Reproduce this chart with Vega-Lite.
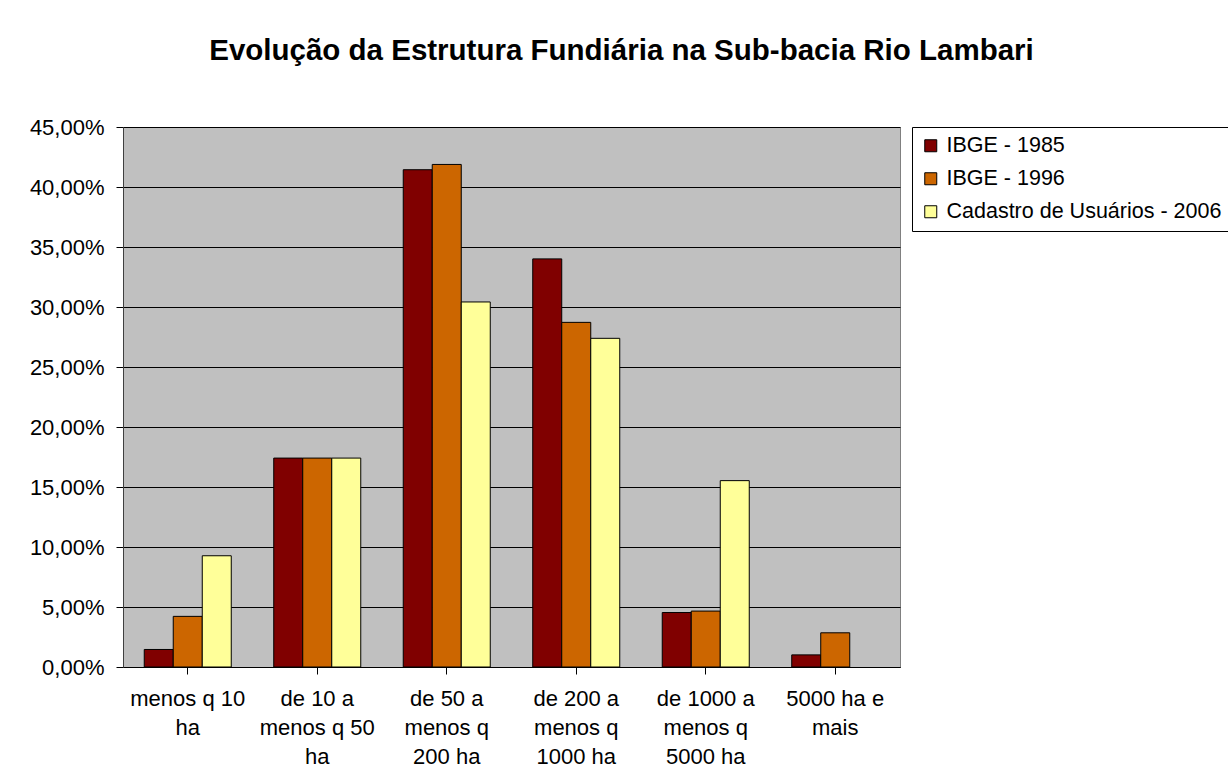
{
  "$schema": "https://vega.github.io/schema/vega-lite/v6.json",
  "width": 777,
  "height": 540,
  "autosize": "none",
  "padding": {"left": 123, "top": 127, "right": 328, "bottom": 111},
  "background": "white",
  "title": {
    "text": "Evolução da Estrutura Fundiária na Sub-bacia Rio Lambari",
    "font": "Liberation Sans",
    "fontSize": 29.5,
    "fontWeight": "bold",
    "color": "black",
    "anchor": "middle",
    "dx": 110,
    "baseline": "alphabetic",
    "offset": 27
  },
  "data": {
    "values": [
      {"classe": "menos q 10 ha", "fonte": "IBGE - 1985", "valor": 0.0146},
      {"classe": "menos q 10 ha", "fonte": "IBGE - 1996", "valor": 0.0422},
      {"classe": "menos q 10 ha", "fonte": "Cadastro de Usuários - 2006", "valor": 0.0927},
      {"classe": "de 10 a menos q 50 ha", "fonte": "IBGE - 1985", "valor": 0.1741},
      {"classe": "de 10 a menos q 50 ha", "fonte": "IBGE - 1996", "valor": 0.1741},
      {"classe": "de 10 a menos q 50 ha", "fonte": "Cadastro de Usuários - 2006", "valor": 0.1741},
      {"classe": "de 50 a menos q 200 ha", "fonte": "IBGE - 1985", "valor": 0.4144},
      {"classe": "de 50 a menos q 200 ha", "fonte": "IBGE - 1996", "valor": 0.4188},
      {"classe": "de 50 a menos q 200 ha", "fonte": "Cadastro de Usuários - 2006", "valor": 0.3042},
      {"classe": "de 200 a menos q 1000 ha", "fonte": "IBGE - 1985", "valor": 0.3401},
      {"classe": "de 200 a menos q 1000 ha", "fonte": "IBGE - 1996", "valor": 0.2872},
      {"classe": "de 200 a menos q 1000 ha", "fonte": "Cadastro de Usuários - 2006", "valor": 0.2739},
      {"classe": "de 1000 a menos q 5000 ha", "fonte": "IBGE - 1985", "valor": 0.0454},
      {"classe": "de 1000 a menos q 5000 ha", "fonte": "IBGE - 1996", "valor": 0.0466},
      {"classe": "de 1000 a menos q 5000 ha", "fonte": "Cadastro de Usuários - 2006", "valor": 0.1553},
      {"classe": "5000 ha e mais", "fonte": "IBGE - 1985", "valor": 0.0101},
      {"classe": "5000 ha e mais", "fonte": "IBGE - 1996", "valor": 0.0285}
    ]
  },
  "mark": {"type": "bar", "stroke": "black", "strokeWidth": 1},
  "encoding": {
    "x": {
      "field": "classe",
      "type": "nominal",
      "sort": null,
      "title": null,
      "scale": {"paddingInner": 0.328, "paddingOuter": 0.164},
      "axis": {
        "labelAngle": 0,
        "labelFont": "Liberation Sans",
        "labelFontSize": 22,
        "labelColor": "black",
        "labelLineHeight": 29,
        "labelPadding": 14,
        "tickSize": 7,
        "tickColor": "black",
        "domainColor": "black",
        "grid": false,
        "labelExpr": "{'menos q 10 ha': ['menos q 10', 'ha'], 'de 10 a menos q 50 ha': ['de 10 a', 'menos q 50', 'ha'], 'de 50 a menos q 200 ha': ['de 50 a', 'menos q', '200 ha'], 'de 200 a menos q 1000 ha': ['de 200 a', 'menos q', '1000 ha'], 'de 1000 a menos q 5000 ha': ['de 1000 a', 'menos q', '5000 ha'], '5000 ha e mais': ['5000 ha e', 'mais']}[datum.label]"
      }
    },
    "xOffset": {
      "field": "fonte",
      "type": "nominal",
      "sort": ["IBGE - 1985", "IBGE - 1996", "Cadastro de Usuários - 2006"],
      "scale": {"paddingInner": 0, "paddingOuter": 0}
    },
    "y": {
      "field": "valor",
      "type": "quantitative",
      "title": null,
      "scale": {"domain": [0, 0.45], "nice": false},
      "axis": {
        "values": [0, 0.05, 0.1, 0.15, 0.2, 0.25, 0.3, 0.35, 0.4, 0.45],
        "format": ".2%",
        "labelFont": "Liberation Sans",
        "labelFontSize": 22,
        "labelColor": "black",
        "labelPadding": 12,
        "tickSize": 7,
        "tickColor": "black",
        "domainColor": "#404040",
        "gridColor": "black",
        "gridWidth": 1,
        "gridOpacity": 1
      }
    },
    "color": {
      "field": "fonte",
      "type": "nominal",
      "sort": ["IBGE - 1985", "IBGE - 1996", "Cadastro de Usuários - 2006"],
      "scale": {
        "domain": ["IBGE - 1985", "IBGE - 1996", "Cadastro de Usuários - 2006"],
        "range": ["#800000", "#CC6600", "#FFFF99"]
      },
      "legend": {
        "title": null,
        "orient": "none",
        "legendX": 789,
        "legendY": 0,
        "strokeColor": "black",
        "fillColor": "white",
        "padding": 8,
        "symbolType": "square",
        "symbolSize": 144,
        "symbolStrokeColor": "black",
        "symbolStrokeWidth": 1,
        "symbolOpacity": 1,
        "labelFont": "Liberation Sans",
        "labelFontSize": 21.5,
        "labelColor": "black",
        "labelOffset": 5,
        "labelLimit": 400,
        "rowPadding": 10
      }
    }
  },
  "config": {
    "locale": {
      "number": {"decimal": ",", "thousands": ".", "grouping": [3], "currency": ["R$ ", ""]}
    },
    "view": {"fill": "#C0C0C0", "stroke": "#808080", "strokeWidth": 1}
  }
}
